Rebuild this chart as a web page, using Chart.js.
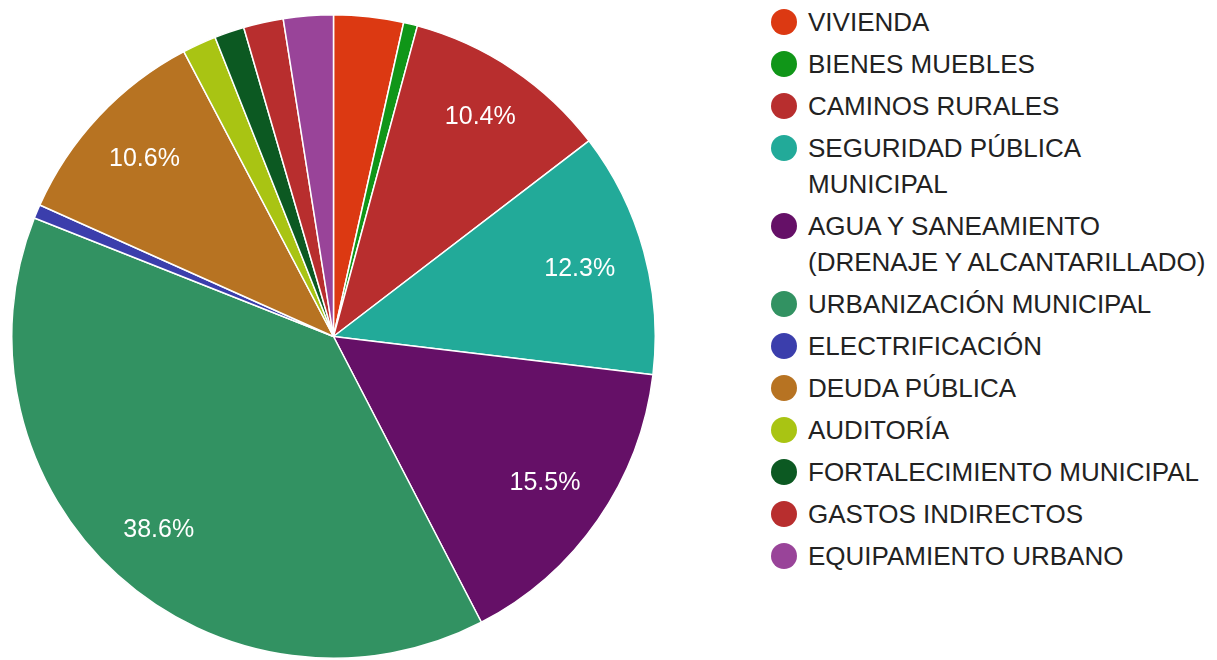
<!DOCTYPE html>
<html lang="es">
<head>
<meta charset="utf-8">
<title>Distribución por rubro</title>
<script src="https://cdn.jsdelivr.net/npm/chart.js@4/dist/chart.umd.min.js"></script>
<style>
  html, body { margin: 0; padding: 0; background: #fff; }
  body { width: 1217px; height: 660px; position: relative; overflow: hidden;
         font-family: Arial, "Liberation Sans", sans-serif; }
  #pieBox { position: absolute; left: 11px; top: 14px; width: 645px; height: 645px; }
  #legend { position: absolute; left: 771px; top: 4px; margin: 0; padding: 0; list-style: none; }
  #legend li { display: flex; align-items: flex-start; margin: 0 0 6px 0; }
  #legend .dot { width: 26px; height: 26px; border-radius: 50%; flex: none; margin-top: 5px; margin-right: 11px; }
  #legend .txt { font-size: 26px; line-height: 36px; color: #222; white-space: pre-line; }
</style>
</head>
<body>
<div id="pieBox"><canvas id="pie"></canvas></div>
<ul id="legend"></ul>
<script>
// Rubros (categorías) y su participación en porcentaje
const categories = [
  "VIVIENDA",
  "BIENES MUEBLES",
  "CAMINOS RURALES",
  "SEGURIDAD PÚBLICA\nMUNICIPAL",
  "AGUA Y SANEAMIENTO\n(DRENAJE Y ALCANTARILLADO)",
  "URBANIZACIÓN MUNICIPAL",
  "ELECTRIFICACIÓN",
  "DEUDA PÚBLICA",
  "AUDITORÍA",
  "FORTALECIMIENTO MUNICIPAL",
  "GASTOS INDIRECTOS",
  "EQUIPAMIENTO URBANO"
];
const shares = [3.5, 0.7, 10.4, 12.3, 15.5, 38.6, 0.7, 10.6, 1.7, 1.5, 2.0, 2.5];
const sliceColors = [
  "#dc3912", "#109618", "#b82e2e", "#22aa99", "#651067", "#329262",
  "#3b3eac", "#b77322", "#a9c413", "#0c5922", "#b82e2e", "#994499"
];
// Sólo se rotulan las rebanadas a partir de este porcentaje
const labelThreshold = 5;

// Rótulos de porcentaje dentro de cada rebanada: el texto se coloca sobre la
// bisectriz, de modo que su esquina más alejada quede a un radio fijo.
const sliceLabels = {
  id: "sliceLabels",
  afterDatasetsDraw(chart) {
    const ctx = chart.ctx;
    const meta = chart.getDatasetMeta(0);
    const values = chart.data.datasets[0].data;
    const total = values.reduce((a, b) => a + b, 0);
    const fontSize = 25;
    ctx.save();
    ctx.fillStyle = "#ffffff";
    ctx.font = fontSize + "px Arial, 'Liberation Sans', sans-serif";
    ctx.textAlign = "center";
    ctx.textBaseline = "middle";
    meta.data.forEach((arc, i) => {
      const pct = values[i] / total * 100;
      if (pct < labelThreshold) return;
      const text = pct.toFixed(1) + "%";
      const p = arc.getProps(["x", "y", "startAngle", "endAngle", "outerRadius"], true);
      const mid = (p.startAngle + p.endAngle) / 2;
      const c = Math.cos(mid), s = Math.sin(mid);
      const hw = ctx.measureText(text).width / 2;
      const hh = fontSize * 0.36;
      const R = p.outerRadius * 0.907;
      const b = Math.abs(c) * hw + Math.abs(s) * hh;
      const d = -b + Math.sqrt(b * b - (hw * hw + hh * hh) + R * R);
      ctx.fillText(text, p.x + c * d, p.y + s * d);
    });
    ctx.restore();
  }
};

const chart = new Chart(document.getElementById("pie"), {
  type: "pie",
  data: {
    labels: categories,
    datasets: [{
      data: shares,
      backgroundColor: sliceColors,
      borderColor: "#ffffff",
      borderWidth: 1.5,
      hoverOffset: 0
    }]
  },
  options: {
    responsive: true,
    maintainAspectRatio: false,
    animation: false,
    layout: { padding: 0 },
    plugins: {
      legend: { display: false },
      tooltip: { enabled: false }
    }
  },
  plugins: [sliceLabels]
});

// Leyenda a la derecha, construida con los datos del gráfico
const legendEl = document.getElementById("legend");
chart.data.labels.forEach((label, i) => {
  const li = document.createElement("li");
  const dot = document.createElement("span");
  dot.className = "dot";
  dot.style.background = chart.data.datasets[0].backgroundColor[i];
  const txt = document.createElement("span");
  txt.className = "txt";
  txt.textContent = label;
  li.appendChild(dot);
  li.appendChild(txt);
  legendEl.appendChild(li);
});
</script>
</body>
</html>
